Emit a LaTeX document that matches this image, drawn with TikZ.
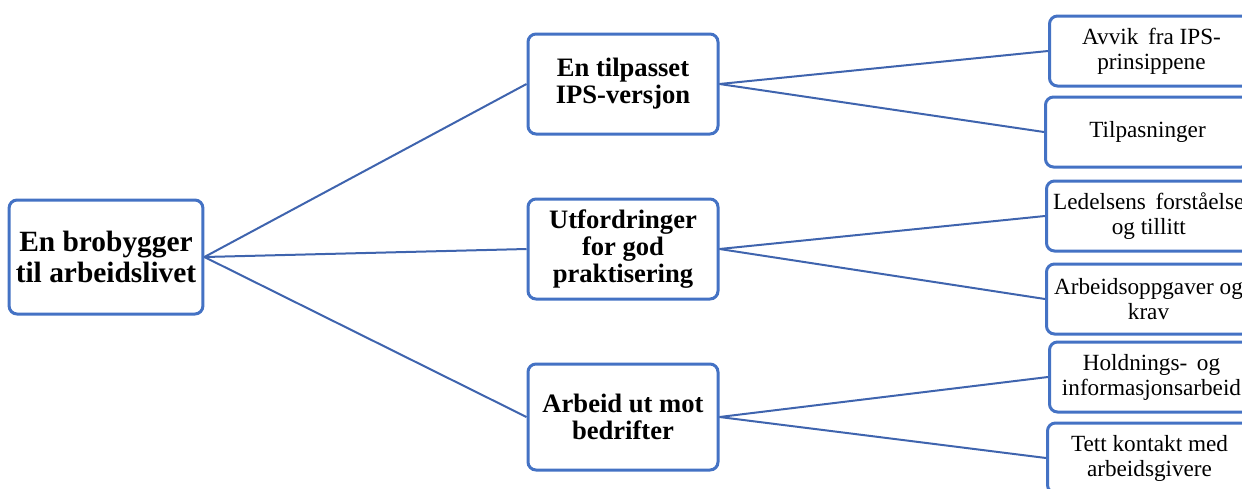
\documentclass[tikz,border=0pt]{standalone}
\usepackage{fontspec}
\setmainfont{Liberation Serif}
\definecolor{boxblue}{HTML}{4472C4}
\definecolor{lineblue}{HTML}{3F64AE}
\begin{document}
\begin{tikzpicture}[x=0.5pt,y=-0.5pt,
    rootbox/.style={draw=boxblue, line width=1.5pt, rounded corners=4pt, fill=white, minimum width=95pt, minimum height=57pt, align=center, font=\fontsize{14.7}{15.2}\selectfont\bfseries},
    midbox/.style={draw=boxblue, line width=1.5pt, rounded corners=4pt, fill=white, minimum width=95pt, minimum height=50pt, align=center, font=\fontsize{13.3}{13.5}\selectfont\bfseries},
    leafbox/.style={draw=boxblue, line width=1.5pt, rounded corners=4pt, fill=white, anchor=west, minimum width=102pt, minimum height=35pt, align=center, font=\fontsize{11.6}{12.5}\selectfont},
    link/.style={draw=lineblue, line width=1pt}]
    \useasboundingbox (0,0) rectangle (1242,488);

    %root
    \node[rootbox] (root) at (106,257) {En brobygger\\til arbeidslivet};

    %middle column
    \node[midbox] (tilpasset) at (623,84) {En tilpasset\\IPS-versjon};
    \node[midbox] (utfordringer) at (623,249) {Utfordringer\\for god\\praktisering};
    \node[midbox, minimum height=53pt] (arbeid) at (623,417) {Arbeid ut mot\\bedrifter};

    %right column
    \node[leafbox] (avvik) at (1048,51) {Avvik\, fra IPS-\\prinsippene};
    \node[leafbox] (tilpasninger) at (1044,132) {Tilpasninger};
    \node[leafbox] (ledelse) at (1045,216) {Ledelsens\, forståelse\\og tillitt};
    \node[leafbox] (oppgaver) at (1045,299) {Arbeidsoppgaver og\\krav};
    \node[leafbox] (holdning) at (1048,377) {Holdnings-\, og\\informasjonsarbeid};
    \node[leafbox] (kontakt) at (1046,458) {Tett kontakt med\\arbeidsgivere};

    %connectors
    \draw[link] (root.east) -- (tilpasset.west);
    \draw[link] (root.east) -- (utfordringer.west);
    \draw[link] (root.east) -- (arbeid.west);
    \draw[link] (tilpasset.east) -- (avvik.west);
    \draw[link] (tilpasset.east) -- (tilpasninger.west);
    \draw[link] (utfordringer.east) -- (ledelse.west);
    \draw[link] (utfordringer.east) -- (oppgaver.west);
    \draw[link] (arbeid.east) -- (holdning.west);
    \draw[link] (arbeid.east) -- (kontakt.west);
\end{tikzpicture}
\end{document}
